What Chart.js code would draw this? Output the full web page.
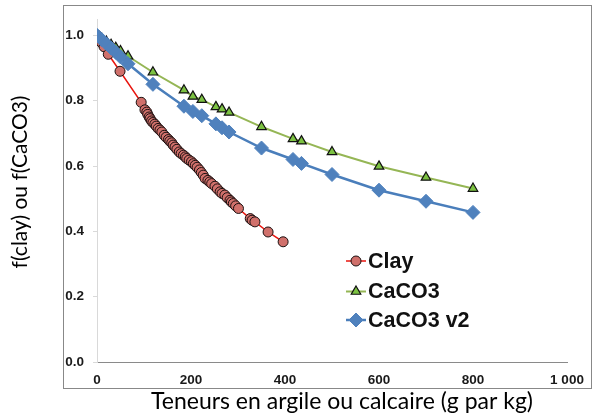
<!DOCTYPE html>
<html>
<head>
<meta charset="utf-8">
<script src="https://cdn.jsdelivr.net/npm/chart.js@4/dist/chart.umd.min.js"></script>
<style>
  body { margin: 0; background: #fff; }
  canvas { display: block; }
</style>
</head>
<body>
<canvas id="chart" width="600" height="418"></canvas>
<script>
// values
const clayX = [0, 5, 10, 15, 24, 49, 94, 102, 106, 108, 111, 113, 116, 119, 123, 126, 130, 134, 138, 143,
  147, 152, 155, 159, 162, 166, 170, 175, 179, 184, 188, 191, 196, 201, 205, 209, 213, 218, 222, 226,
  230, 236, 240, 244, 251, 256, 262, 266, 272, 277, 283, 286, 290, 295, 301, 326, 330, 336, 364, 396];
const clayY = [1.0, 0.988, 0.977, 0.965, 0.942, 0.890, 0.795, 0.772, 0.765, 0.758, 0.750, 0.745, 0.738, 0.733, 0.728, 0.722, 0.715, 0.710, 0.704, 0.694,
  0.688, 0.681, 0.676, 0.671, 0.664, 0.658, 0.651, 0.643, 0.638, 0.633, 0.628, 0.623, 0.618, 0.613, 0.607, 0.602, 0.596, 0.588, 0.580, 0.572,
  0.562, 0.556, 0.551, 0.546, 0.538, 0.530, 0.521, 0.516, 0.511, 0.503, 0.495, 0.490, 0.485, 0.478, 0.470, 0.439, 0.434, 0.429, 0.398, 0.368];

const carbX = [0, 10, 20, 30, 40, 50, 66, 119, 185, 204, 223, 253, 266, 281, 350, 417, 435, 500, 600, 700, 800];
const caco3Y = [1.0, 0.990, 0.981, 0.971, 0.962, 0.952, 0.936, 0.887, 0.832, 0.813, 0.803, 0.781, 0.774, 0.764, 0.720, 0.683, 0.676, 0.643, 0.599, 0.565, 0.531];
const caco3v2Y = [1.0, 0.987, 0.974, 0.961, 0.948, 0.934, 0.913, 0.850, 0.783, 0.767, 0.754, 0.729, 0.717, 0.704, 0.655, 0.620, 0.608, 0.574, 0.526, 0.492, 0.458];

const seriesNames = ['Clay', 'CaCO3', 'CaCO3 v2'];
const xTicks = [0, 200, 400, 600, 800, 1000];
const xTickLabels = ['0', '200', '400', '600', '800', '1 000'];
const yTicks = [0, 0.2, 0.4, 0.6, 0.8, 1.0];
const yTickLabels = ['0.0', '0.2', '0.4', '0.6', '0.8', '1.0'];
const xTitle = 'Teneurs en argile ou calcaire (g par kg)';
const yTitle = 'f(clay) ou f(CaCO3)';

function pts(xs, ys) {
  return xs.map((x, i) => ({ x: x, y: ys[i] }));
}

const tickFont = { family: "'Liberation Sans', Arial, sans-serif", size: 13.5, weight: 'bold' };

// legend inside the plot + axis titles + frame
const decorations = {
  id: 'decorations',
  afterDraw(chart) {
    const ctx = chart.ctx;
    ctx.save();

    // outer frame
    ctx.strokeStyle = '#888';
    ctx.lineWidth = 1;
    ctx.strokeRect(63.5, 5.5, 528, 383);

    // legend
    const rows = [261, 291.5, 320];
    chart.data.datasets.forEach((ds, i) => {
      const y = rows[i];
      ctx.strokeStyle = ds.borderColor;
      ctx.lineWidth = ds.borderWidth;
      ctx.beginPath();
      ctx.moveTo(346, y);
      ctx.lineTo(366, y);
      ctx.stroke();
      ctx.fillStyle = ds.pointBackgroundColor;
      ctx.strokeStyle = ds.pointBorderColor;
      ctx.lineWidth = ds.pointBorderWidth;
      Chart.helpers.drawPoint(ctx, { pointStyle: ds.pointStyle, radius: ds.pointRadius, rotation: 0, borderWidth: ds.pointBorderWidth }, 356, y);
      ctx.fillStyle = '#111';
      ctx.font = "bold 21.5px 'Liberation Sans', Arial, sans-serif";
      ctx.textAlign = 'left';
      ctx.textBaseline = 'middle';
      ctx.fillText(ds.label, 368, y + 1);
    });

    // axis titles
    ctx.fillStyle = '#000';
    ctx.textAlign = 'center';
    ctx.textBaseline = 'middle';
    ctx.font = "23px Lato, 'Open Sans', sans-serif";
    ctx.fillText(xTitle, 342, 402);
    ctx.font = "21px Lato, 'Open Sans', sans-serif";
    ctx.translate(20, 182);
    ctx.rotate(-Math.PI / 2);
    ctx.fillText(yTitle, 0, 0);
    ctx.restore();
  }
};

new Chart(document.getElementById('chart').getContext('2d'), {
  type: 'scatter',
  data: {
    datasets: [{
      label: seriesNames[0],
      data: pts(clayX, clayY),
      showLine: true,
      borderColor: '#e8140e',
      borderWidth: 1.5,
      pointStyle: 'circle',
      pointRadius: 5,
      pointBackgroundColor: '#d0706b',
      pointBorderColor: '#1a1010',
      pointBorderWidth: 1,
      order: 2
    }, {
      label: seriesNames[1],
      data: pts(carbX, caco3Y),
      showLine: true,
      borderColor: '#95b655',
      borderWidth: 2,
      pointStyle: 'triangle',
      pointRadius: 5.5,
      pointBackgroundColor: '#7cc242',
      pointBorderColor: '#111',
      pointBorderWidth: 1.2,
      order: 1
    }, {
      label: seriesNames[2],
      data: pts(carbX, caco3v2Y),
      showLine: true,
      borderColor: '#4a7ebb',
      borderWidth: 2.5,
      pointStyle: 'rectRot',
      pointRadius: 7,
      pointBackgroundColor: '#4f81bd',
      pointBorderColor: '#4f81bd',
      pointBorderWidth: 1,
      order: 0
    }]
  },
  options: {
    responsive: false,
    animation: false,
    layout: { padding: { left: 0, right: 33, top: 19, bottom: 0 } },
    plugins: {
      legend: { display: false },
      tooltip: { enabled: false }
    },
    scales: {
      x: {
        type: 'linear',
        min: 0,
        max: 1000,
        afterBuildTicks: s => { s.ticks = xTicks.map(v => ({ value: v })); },
        afterFit: s => { s.height = 56; },
        ticks: {
          font: tickFont,
          color: '#1a1a1a',
          padding: 10,
          maxRotation: 0,
          callback: v => xTickLabels[xTicks.indexOf(v)]
        },
        grid: { drawOnChartArea: false, drawTicks: false },
        border: { color: '#8a8a8a', width: 1 }
      },
      y: {
        type: 'linear',
        min: 0,
        max: 1.05,
        afterBuildTicks: s => { s.ticks = yTicks.map(v => ({ value: v })); },
        afterFit: s => { s.width = 97; },
        ticks: {
          font: tickFont,
          color: '#1a1a1a',
          padding: 9,
          callback: v => yTickLabels[yTicks.findIndex(t => Math.abs(t - v) < 1e-9)]
        },
        grid: { drawOnChartArea: false, drawTicks: true, tickLength: 4, color: '#d9d9d9' },
        border: { color: '#d9d9d9', width: 1 }
      }
    }
  },
  plugins: [decorations]
});
</script>
</body>
</html>
